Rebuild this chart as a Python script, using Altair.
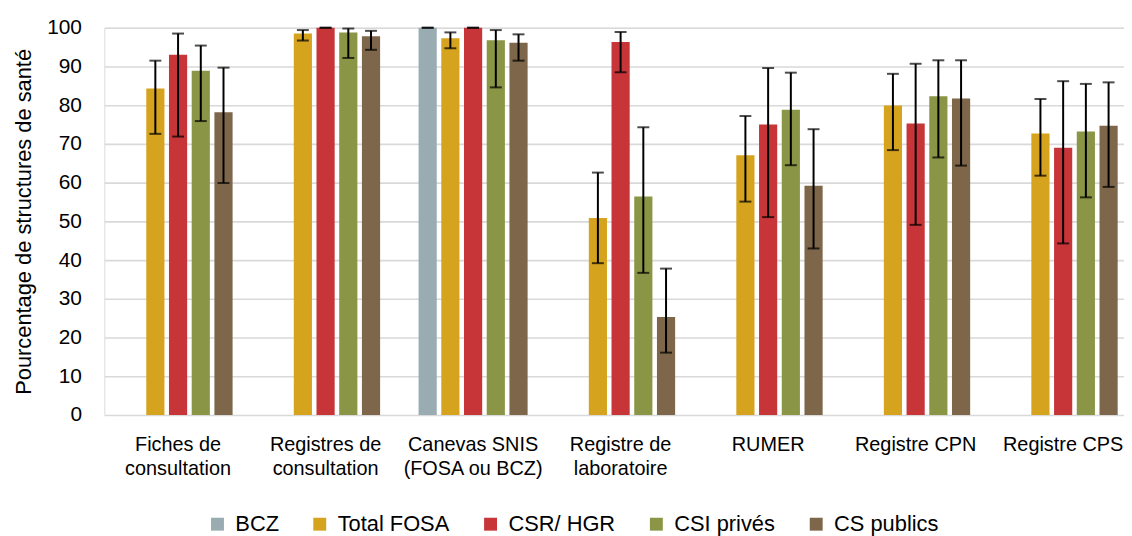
import altair as alt
import pandas as pd

categories = ["Fiches de|consultation", "Registres de|consultation", "Canevas SNIS|(FOSA ou BCZ)",
              "Registre de|laboratoire", "RUMER", "Registre CPN", "Registre CPS"]
series = ["BCZ", "Total FOSA", "CSR/ HGR", "CSI privés", "CS publics"]
colors = ["#98ACB1", "#D6A31F", "#C73538", "#8A9646", "#7D6649"]
y_ticks = [0, 10, 20, 30, 40, 50, 60, 70, 80, 90, 100]

bcz = [None, None, 100, None, None, None, None]
bcz_lo = [None, None, 100, None, None, None, None]
bcz_hi = [None, None, 100, None, None, None, None]

total = [84.3, 98.5, 97.3, 50.9, 67.1, 79.9, 72.7]
total_lo = [72.6, 96.7, 94.7, 39.2, 55.1, 68.4, 61.8]
total_hi = [91.5, 99.4, 98.8, 62.6, 77.2, 88.1, 81.6]

csr = [93.0, 100, 100, 96.3, 75.0, 75.3, 69.0]
csr_lo = [71.9, 100, 100, 88.5, 51.1, 49.1, 44.3]
csr_hi = [98.5, 100, 100, 98.9, 89.6, 90.7, 86.2]

csi = [88.9, 98.8, 96.8, 56.4, 78.8, 82.3, 73.2]
csi_lo = [75.9, 92.2, 84.6, 36.7, 64.5, 66.5, 56.2]
csi_hi = [95.4, 99.8, 99.4, 74.3, 88.4, 91.6, 85.5]

cs = [78.2, 97.8, 96.1, 25.3, 59.2, 81.7, 74.7]
cs_lo = [59.9, 94.3, 91.5, 16.1, 43.0, 64.4, 58.9]
cs_hi = [89.7, 99.2, 98.3, 37.8, 73.8, 91.6, 85.9]

vals = [bcz, total, csr, csi, cs]
los = [bcz_lo, total_lo, csr_lo, csi_lo, cs_lo]
his = [bcz_hi, total_hi, csr_hi, csi_hi, cs_hi]

rows = []
for s, v, lo, hi in zip(series, vals, los, his):
    for i, c in enumerate(categories):
        if v[i] is not None:
            rows.append({"cat": c, "serie": s, "val": v[i], "lo": lo[i], "hi": hi[i]})
df = pd.DataFrame(rows)

FONT = "Liberation Sans, Arial, sans-serif"
TITLE = "Pourcentage de structures de santé"

x = alt.X("cat:N", sort=categories, title=None,
          scale=alt.Scale(paddingInner=0.23, paddingOuter=0.115, range=[0, 1040]),
          axis=alt.Axis(labelExpr="split(datum.label, '|')", labelAngle=0, labelFontSize=20,
                        labelFont=FONT, labelColor="#000000", labelPadding=20, labelLineHeight=24,
                        domain=False, ticks=False, labelBaseline="top"))
xo = alt.XOffset("serie:N", sort=series, scale=alt.Scale(domain=series, paddingInner=0.2, paddingOuter=0.1))

y_scale = alt.Scale(domain=[0, 100], nice=False)
y_axis = alt.Axis(values=y_ticks, tickCount=11, labelOverlap=False, labelFontSize=21, labelFont=FONT,
                  labelColor="#000000", titleFontSize=22, titleFont=FONT, titleColor="#000000",
                  titleFontWeight="normal", labelPadding=23, tickSize=0, ticks=False,
                  domain=False, grid=True, gridColor="#D9D9D9", gridWidth=1.6, titlePadding=11)

base = alt.Chart(df)

bars = base.mark_bar().encode(
    x=x, xOffset=xo,
    y=alt.Y("val:Q", scale=y_scale, title=TITLE, axis=y_axis),
    color=alt.Color("serie:N", sort=series, scale=alt.Scale(domain=series, range=colors),
                    legend=alt.Legend(title=None, orient="none", direction="horizontal",
                                      legendX=103, legendY=489, symbolType="square", symbolSize=169,
                                      symbolStrokeWidth=0, labelFontSize=22, labelFont=FONT,
                                      labelColor="#000000", labelOffset=7, columnPadding=30,
                                      padding=0)),
)

rules = base.mark_rule(color="#000000", strokeWidth=2).encode(
    x=x, xOffset=xo, y=alt.Y("lo:Q", scale=y_scale, title=TITLE, axis=y_axis), y2="hi:Q")
caps_hi = base.mark_tick(color="#000000", thickness=2, size=12, orient="horizontal").encode(
    x=x, xOffset=xo, y=alt.Y("hi:Q", scale=y_scale, title=TITLE, axis=y_axis))
caps_lo = base.mark_tick(color="#000000", thickness=2, size=12, orient="horizontal").encode(
    x=x, xOffset=xo, y=alt.Y("lo:Q", scale=y_scale, title=TITLE, axis=y_axis))

chart = alt.layer(bars, rules, caps_hi, caps_lo).properties(
    width=1027, height=390,
    autosize=alt.AutoSizeParams(type="none"),
    padding={"left": 97, "top": 18, "right": 0, "bottom": 120},
).configure_view(stroke=None).configure(background="#FFFFFF").configure_axisY(
    values=y_ticks, tickCount=11, labelOverlap=False)

chart.save("out.html", embed_options={"renderer": "svg", "actions": False})
